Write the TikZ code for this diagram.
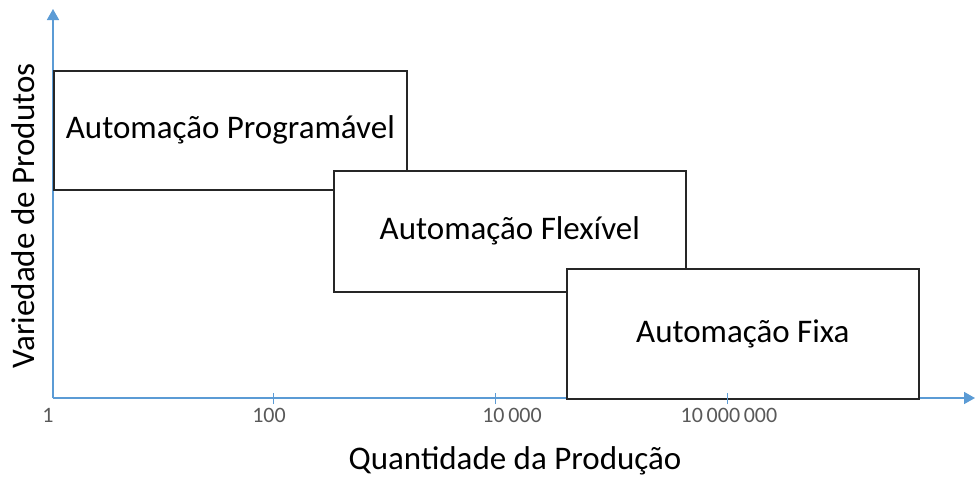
\documentclass[tikz,border=0pt]{standalone}
\usepackage{fontspec}
\setmainfont{Carlito}
\usetikzlibrary{arrows.meta,positioning}
\definecolor{axisblue}{RGB}{91,155,213}
\definecolor{ticktext}{RGB}{89,89,89}

\begin{document}
\begin{tikzpicture}[x=1pt,y=-1pt,
  box/.style={draw=black!85, line width=1.6pt, fill=white, anchor=north west,
    inner sep=0pt, font=\fontsize{33}{36}\selectfont},
  axisline/.style={draw=axisblue, line width=1.6pt, -{Triangle[length=11pt,width=12pt]}},
  tick/.style={draw=axisblue, line width=1pt},
  ticklabel/.style={text=ticktext, font=\fontsize{22}{24}\selectfont, inner sep=0pt}]
\useasboundingbox (0,0) rectangle (975,477);
% axes
\coordinate (o) at (53,398);
\coordinate (ytip) at (53,9);
\coordinate (xtip) at (975,398);
\draw[axisline] (o) -- (ytip);
\draw[axisline] (o) -- (xtip);
% boxes, later ones drawn on top
\node[box, minimum width=353pt, minimum height=119pt] (prog) at (53,70)
  {Automação Programável};
\node[box, minimum width=352pt, minimum height=121pt] (flex) at (333,170)
  {Automação Flexível};
\node[box, minimum width=352pt, minimum height=130pt] (fixa) at (566,268)
  {Automação Fixa};
% ticks and labels
\foreach \tx/\nm in {273/t2, 495/t4, 727/t7} {
  \coordinate (\nm) at (\tx,398);
  \draw[tick] ([yshift=-6pt]\nm) -- ([yshift=5pt]\nm);
}
\node[ticklabel] (l1) at (48,415) {1};
\node[ticklabel] (l2) at (269,415) {100};
\node[ticklabel] (l4) at (512,415) {10\,000};
\node[ticklabel] (l7) at (729,415) {10\,000\,000};
% axis titles
\node[font=\fontsize{33}{36}\selectfont, inner sep=0pt] (xlab) at (515,461)
  {Quantidade da Produção};
\node[font=\fontsize{33}{36}\selectfont, inner sep=0pt, rotate=90] (ylab) at (23,216)
  {Variedade de Produtos};
\end{tikzpicture}
\end{document}
